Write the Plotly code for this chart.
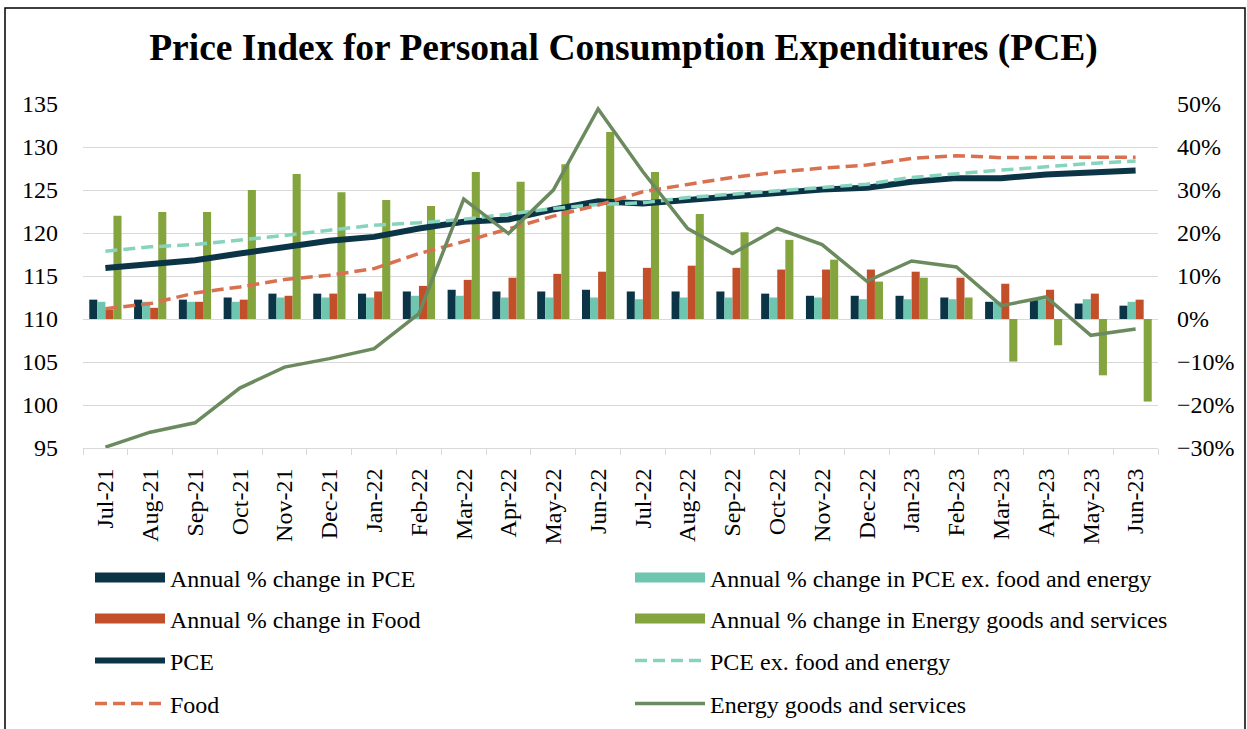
import plotly.graph_objects as go

months = ['Jul-21', 'Aug-21', 'Sep-21', 'Oct-21', 'Nov-21', 'Dec-21', 'Jan-22', 'Feb-22',
          'Mar-22', 'Apr-22', 'May-22', 'Jun-22', 'Jul-22', 'Aug-22', 'Sep-22', 'Oct-22',
          'Nov-22', 'Dec-22', 'Jan-23', 'Feb-23', 'Mar-23', 'Apr-23', 'May-23', 'Jun-23']

# Annual % change (right axis)
pct_pce = [4.5, 4.5, 4.5, 5.0, 5.9, 5.9, 5.9, 6.4, 6.8, 6.4, 6.4, 6.8,
           6.4, 6.4, 6.4, 5.9, 5.4, 5.4, 5.4, 5.0, 4.0, 4.4, 3.6, 3.1]
pct_core = [4.0, 4.0, 4.0, 4.0, 5.0, 5.0, 5.0, 5.4, 5.4, 5.0, 5.0, 5.0,
            4.6, 5.0, 5.0, 5.0, 5.0, 4.6, 4.6, 4.6, 4.0, 4.6, 4.6, 4.0]
pct_food = [2.2, 2.6, 4.0, 4.5, 5.4, 5.9, 6.4, 7.7, 9.1, 9.6, 10.5, 11.0,
            11.9, 12.4, 11.9, 11.5, 11.5, 11.5, 11.0, 9.6, 8.2, 6.8, 5.9, 4.5]
pct_energy = [24.0, 24.9, 24.9, 30.0, 33.7, 29.5, 27.7, 26.3, 34.2, 31.9, 36.0, 43.5,
              34.2, 24.4, 20.2, 18.4, 13.8, 8.7, 9.6, 5.0, -9.9, -6.1, -13.1, -19.2]

# Price indexes (left axis)
idx_pce = [115.94, 116.37, 116.83, 117.61, 118.39, 119.09, 119.55, 120.52, 121.30, 121.57, 122.74, 123.70,
           123.43, 123.82, 124.21, 124.75, 125.06, 125.26, 125.96, 126.38, 126.38, 126.81, 127.04, 127.27]
idx_core = [117.88, 118.39, 118.66, 119.16, 119.71, 120.33, 120.91, 121.18, 121.60, 122.19, 122.85, 123.32,
            123.51, 124.13, 124.52, 124.90, 125.26, 125.68, 126.46, 126.93, 127.31, 127.70, 128.09, 128.36]
idx_food = [111.20, 111.79, 113.03, 113.73, 114.58, 115.09, 115.86, 117.61, 119.00, 120.52, 121.96, 123.24,
            124.79, 125.65, 126.46, 127.08, 127.55, 127.90, 128.68, 128.99, 128.76, 128.80, 128.80, 128.80]
idx_energy = [95.10, 96.84, 97.93, 101.97, 104.41, 105.39, 106.55, 110.62, 123.94, 119.94, 124.99, 134.42,
              127.12, 120.52, 117.61, 120.52, 118.65, 114.39, 116.75, 116.05, 111.55, 112.56, 108.10, 108.83]

W, H = 1247, 729
ML, MR, MT, MB = 83, 89, 104, 281
PW, PH = W - ML - MR, H - MT - MB


def px_x(px):
    return (px - ML) / PW


def px_y(py):
    return (H - MB - py) / PH


SERIF = 'Liberation Serif'
C_PCE = '#0B3547'
C_CORE_BAR = '#6EC6B0'
C_FOOD_BAR = '#C24E2A'
C_EN_BAR = '#84A43D'
C_CORE_LN = '#86D3BE'
C_FOOD_LN = '#D9704F'
C_EN_LN = '#6B8B5F'

# legend slot positions (col x, row y) in pixels
COL_X = [90, 630]
ROW_Y = [578, 619, 661, 704]

fig = go.Figure()

bars = [
    ('Annual % change in PCE', pct_pce, C_PCE),
    ('Annual % change in PCE ex. food and energy', pct_core, C_CORE_BAR),
    ('Annual % change in Food', pct_food, C_FOOD_BAR),
    ('Annual % change in Energy goods and services', pct_energy, C_EN_BAR),
]
lines = [
    ('PCE', idx_pce, C_PCE, 6, 'solid'),
    ('PCE ex. food and energy', idx_core, C_CORE_LN, 3.5, '12px,6px'),
    ('Food', idx_food, C_FOOD_LN, 3.5, '12px,6px'),
    ('Energy goods and services', idx_energy, C_EN_LN, 3.5, 'solid'),
]

legends = {}
slot = 0


def legend_key(i):
    return 'legend' if i == 0 else 'legend%d' % (i + 1)


def legend_pos(i):
    return dict(x=COL_X[i % 2] / W, y=1 - ROW_Y[i // 2] / H)


# bars (drawn from data); legend swatch shown as a wide rectangle via a legend-only entry
for name, vals, col in bars:
    key = legend_key(slot)
    fig.add_trace(go.Bar(x=months, y=vals, name=name, marker=dict(color=col, line=dict(width=0)),
                         yaxis='y', showlegend=False, legend=key))
    fig.add_trace(go.Scatter(x=[None], y=[None], name=name, mode='lines',
                             line=dict(color=col, width=14), yaxis='y',
                             showlegend=True, legend=key, hoverinfo='skip'))
    legends[key] = legend_pos(slot)
    slot += 1

for name, vals, col, w, dash in lines:
    key = legend_key(slot)
    fig.add_trace(go.Scatter(x=months, y=vals, name=name, mode='lines',
                             line=dict(color=col, width=w, dash=dash),
                             yaxis='y2', showlegend=True, legend=key))
    legends[key] = legend_pos(slot)
    slot += 1

leg_common = dict(orientation='v', xanchor='left', yanchor='middle',
                  xref='container', yref='container',
                  font=dict(family=SERIF, size=24, color='black'),
                  bgcolor='rgba(0,0,0,0)', itemwidth=70, borderwidth=0, visible=True)
for key in legends:
    legends[key] = dict(leg_common, **legends[key])

fig.update_layout(
    width=W, height=H,
    showlegend=True,
    margin=dict(l=ML, r=MR, t=MT, b=MB, autoexpand=False),
    paper_bgcolor='white', plot_bgcolor='white',
    title=dict(text='<b>Price Index for Personal Consumption Expenditures (PCE)</b>',
               x=0.5, xref='container', xanchor='center',
               y=1 - 47 / H, yref='container', yanchor='middle',
               font=dict(family=SERIF, size=37.5, color='black')),
    barmode='group', bargap=0.28, bargroupgap=0,
    xaxis=dict(type='category', tickangle=-90, tickson='boundaries', ticks='outside', ticklen=6,
               tickcolor='#D9D9D9', showline=True, linecolor='#D9D9D9', linewidth=1,
               showgrid=False, ticklabelstandoff=10, automargin=False,
               tickfont=dict(family=SERIF, size=24, color='black')),
    yaxis=dict(side='right', range=[-30, 50], dtick=10, tick0=0, ticksuffix='%',
               showgrid=True, gridcolor='#D9D9D9', gridwidth=1, zeroline=False,
               showline=False, ticks='', ticklabelstandoff=18, automargin=False,
               tickfont=dict(family=SERIF, size=24, color='black')),
    yaxis2=dict(side='left', overlaying='y', range=[95, 135], dtick=5, tick0=95,
                showgrid=False, zeroline=False, showline=False, ticks='', ticklabelstandoff=24,
                automargin=False, tickfont=dict(family=SERIF, size=24, color='black')),
    shapes=[dict(type='rect', xref='paper', yref='paper',
                 x0=px_x(5), x1=px_x(1245), y0=px_y(740), y1=px_y(8),
                 line=dict(color='black', width=1.5), fillcolor='rgba(0,0,0,0)', layer='above')],
    **legends,
)

fig.write_html('out.html', config={'displayModeBar': False},
               post_script="document.body.style.margin='0';document.body.style.overflow='hidden';")
